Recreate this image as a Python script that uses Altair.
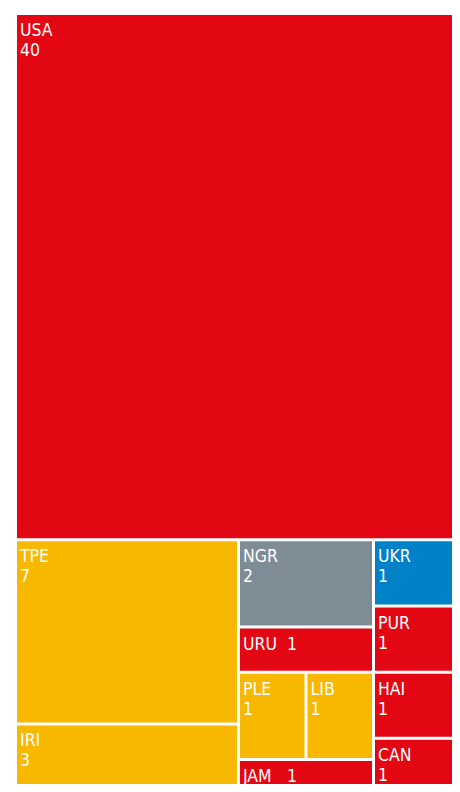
import altair as alt
import pandas as pd

# ---- data ----
countries = ["USA", "TPE", "IRI", "NGR", "URU", "PLE", "LIB", "JAM", "UKR", "PUR", "HAI", "CAN"]
medals    = [40, 7, 3, 2, 1, 1, 1, 1, 1, 1, 1, 1]
groups    = ["red", "yellow", "yellow", "gray", "red", "yellow", "yellow", "red", "blue", "red", "red", "red"]
# hierarchy (slice-and-dice nesting), leaves are country codes
tree = ["USA", [["TPE", "IRI"], ["NGR", "URU", ["PLE", "LIB"], "JAM"], ["UKR", "PUR", "HAI", "CAN"]]]

color_domain = ["red", "yellow", "gray", "blue"]
color_range = ["#E30613", "#F9B800", "#7E8C95", "#0081C8"]

# full treemap size (the picture shows only its top-left part)
W, H, GAP = 446, 788, 3
# visible window
VW, VH = 435, 769
value_of = dict(zip(countries, medals))


def total(node):
    if isinstance(node, str):
        return value_of[node]
    return sum(total(c) for c in node)


cells = {}


def layout(node, x0, y0, x1, y1, depth):
    if isinstance(node, str):
        cells[node] = (x0, y0, x1, y1)
        return
    vals = [total(c) for c in node]
    s = sum(vals)
    horizontal = depth % 2 == 1  # depth 0 stacks in y
    length = (x1 - x0) if horizontal else (y1 - y0)
    avail = length - GAP * (len(node) - 1)
    pos = x0 if horizontal else y0
    for c, v in zip(node, vals):
        size = avail * v / s
        if horizontal:
            layout(c, pos, y0, pos + size, y1, depth + 1)
        else:
            layout(c, x0, pos, x1, pos + size, depth + 1)
        pos += size + GAP


layout(tree, 0, 0, W, H, 0)

rows = []
for c, m, g in zip(countries, medals, groups):
    x0, y0, x1, y1 = cells[c]
    rows.append({"country": c, "medals": m, "group": g,
                 "x0": x0, "y0": y0, "x1": x1, "y1": y1,
                 "short": (y1 - y0) < 50})
df = pd.DataFrame(rows)

xs = alt.Scale(domain=[0, VW], nice=False, zero=False)
ys = alt.Scale(domain=[0, VH], nice=False, zero=False, reverse=True)

base = alt.Chart(df)
FONT = "Noto Sans Condensed, DejaVu Sans Condensed, Liberation Sans, sans-serif"
FS = 17.5

rects = base.mark_rect(strokeWidth=0, clip=True).encode(
    x=alt.X("x0:Q", scale=xs, axis=None),
    x2="x1:Q",
    y=alt.Y("y0:Q", scale=ys, axis=None),
    y2="y1:Q",
    color=alt.Color("group:N", scale=alt.Scale(domain=color_domain, range=color_range), legend=None),
)

names = base.mark_text(align="left", baseline="alphabetic", dx=3, dy=21,
                       color="white", font=FONT, fontSize=FS).encode(
    x=alt.X("x0:Q", scale=xs, axis=None),
    y=alt.Y("y0:Q", scale=ys, axis=None),
    text="country:N",
)

vals_tall = base.transform_filter("!datum.short").mark_text(
    align="left", baseline="alphabetic", dx=3, dy=41,
    color="white", font=FONT, fontSize=FS).encode(
    x=alt.X("x0:Q", scale=xs, axis=None),
    y=alt.Y("y0:Q", scale=ys, axis=None),
    text="medals:Q",
)

vals_short = base.transform_filter("datum.short").mark_text(
    align="left", baseline="alphabetic", dx=47, dy=21,
    color="white", font=FONT, fontSize=FS).encode(
    x=alt.X("x0:Q", scale=xs, axis=None),
    y=alt.Y("y0:Q", scale=ys, axis=None),
    text="medals:Q",
)

chart = alt.layer(rects, names, vals_tall, vals_short).properties(
    width=VW, height=VH,
    padding={"left": 9, "top": 7, "right": 0, "bottom": 0},
    background="white",
).configure_view(stroke=None)

chart.save("out.html", embed_options={"renderer": "svg", "actions": False})
